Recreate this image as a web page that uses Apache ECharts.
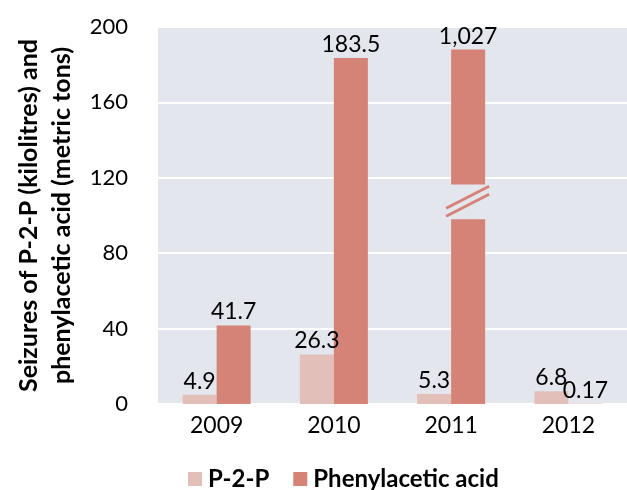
<!DOCTYPE html>
<html>
<head>
<meta charset="utf-8">
<script src="https://cdn.jsdelivr.net/npm/echarts@6/dist/echarts.min.js"></script>
<style>html,body{margin:0;padding:0;background:#fff;}#c{width:627px;height:490px;}</style>
</head>
<body>
<div id="c"></div>
<script>
const categories = ['2009', '2010', '2011', '2012'];
const p2p = [4.9, 26.3, 5.3, 6.8];
const phenylacetic = [41.7, 183.5, 1027, 0.17];
const yTicks = [0, 40, 80, 120, 160, 200];
// broken bar: value drawn truncated at shownTop, with a gap between gapLow and gapHigh
const brokenIndex = 2;
const brokenShownTop = 188;
const brokenGap = [98, 116.5];

const bgColor = '#e4e6ee';
const p2pColor = '#e2c0b9';
const phenColor = '#d58377';
const font = 'Lato';
const barW = 34;

const chart = echarts.init(document.getElementById('c'));
const phenData = phenylacetic.map((v, i) => ({
  value: i === brokenIndex ? brokenShownTop : v,
  real: v
}));

chart.setOption({
  animation: false,
  grid: { left: 158, top: 27, width: 472, bottom: 86, show: true, backgroundColor: bgColor, borderWidth: 0 },
  legend: {
    left: 183, top: 462, itemWidth: 14, itemHeight: 14, itemGap: 24,
    icon: 'rect',
    textStyle: { fontFamily: font, fontSize: 24, fontWeight: 'bold', color: '#000', padding: [0, 0, 0, 1] },
    data: ['P-2-P', 'Phenylacetic acid']
  },
  xAxis: {
    type: 'category', data: categories,
    axisLine: { show: false }, axisTick: { show: false },
    axisLabel: { fontFamily: font, fontSize: 23, color: '#000', margin: 10 }
  },
  yAxis: {
    type: 'value', min: yTicks[0], max: yTicks[yTicks.length - 1], interval: 40,
    name: 'Seizures of P-2-P (kilolitres) and\nphenylacetic acid (metric tons)',
    nameLocation: 'middle', nameGap: 80, nameRotate: 90,
    nameTextStyle: { fontFamily: font, fontSize: 25, fontWeight: 'bold', color: '#000', lineHeight: 33 },
    axisLine: { show: false }, axisTick: { show: false },
    axisLabel: { fontFamily: font, fontSize: 22, color: '#000', margin: 30 },
    splitLine: { lineStyle: { color: '#ffffff', width: 2 } }
  },
  series: [
    {
      name: 'P-2-P', type: 'bar', data: p2p, barWidth: barW, barGap: '0%',
      itemStyle: { color: p2pColor },
      label: { show: true, position: 'top', distance: 2, fontFamily: font, fontSize: 23, color: '#000' }
    },
    {
      name: 'Phenylacetic acid', type: 'bar', data: phenData, barWidth: barW,
      itemStyle: { color: phenColor },
      label: {
        show: true, position: 'top', distance: 2, fontFamily: font, fontSize: 23, color: '#000',
        formatter: p => p.data.real.toLocaleString('en-US')
      }
    },
    {
      type: 'custom', z: 5, silent: true,
      data: [[brokenIndex, brokenGap[0], brokenGap[1]]],
      renderItem: function (params, api) {
        const lo = api.coord([api.value(0), api.value(1)]);
        const hi = api.coord([api.value(0), api.value(2)]);
        const x0 = lo[0];
        const x1 = lo[0] + barW;
        const yTop = hi[1], yBot = lo[1];
        const cy = (yTop + yBot) / 2;
        const xl = x0 - 5, xr = x1 + 4;
        return {
          type: 'group',
          children: [
            { type: 'rect', shape: { x: x0 - 1, y: yTop, width: barW + 2, height: yBot - yTop }, style: { fill: bgColor } },
            { type: 'line', shape: { x1: xl, y1: cy + 6.4, x2: xr, y2: cy - 15.6 }, style: { stroke: phenColor, lineWidth: 3 } },
            { type: 'line', shape: { x1: xl, y1: cy + 14.4, x2: xr, y2: cy - 7.6 }, style: { stroke: phenColor, lineWidth: 3 } }
          ]
        };
      }
    }
  ]
});
</script>
</body>
</html>
